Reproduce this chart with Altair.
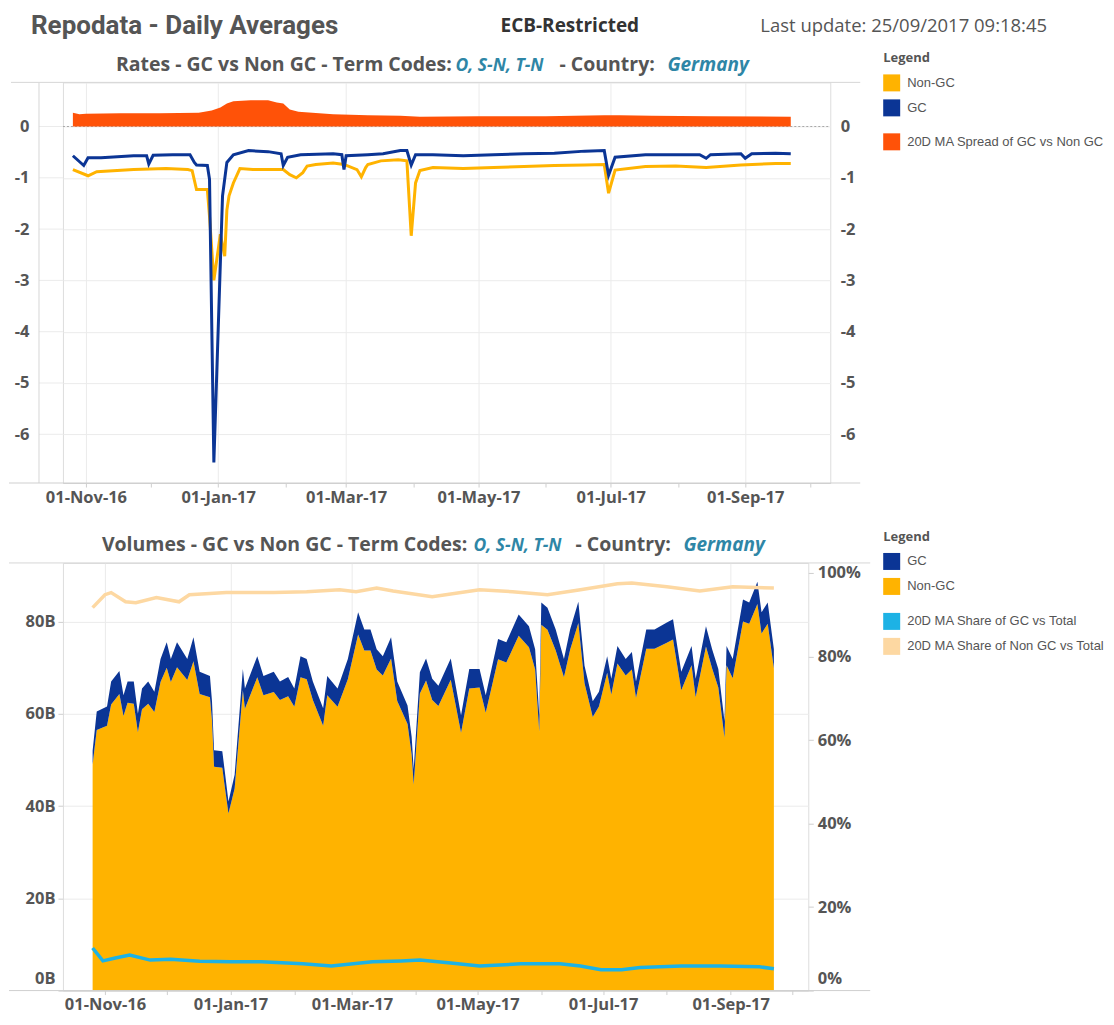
import altair as alt
import pandas as pd

# ---------------- colours / fonts ----------------
ORANGE = "#FFB300"
BLUE = "#0B3595"
RED = "#FF5208"
CYAN = "#1DB2E5"
PEACH = "#FDD8A2"
GRAY = "#555555"
TEAL = "#2E86A6"
GRID = "#EBEBEB"
FRAME = "#D6D6D6"
FONT = "Open Sans"
LFONT = "Liberation Sans"

# ---------------- data: Rates panel ----------------
RATE_NGC_DATES = ["2016-10-26", "2016-11-02", "2016-11-06", "2016-11-23", "2016-12-08", "2016-12-18",
                  "2016-12-20", "2016-12-22", "2016-12-27", "2016-12-28", "2016-12-30", "2017-01-02",
                  "2017-01-04", "2017-01-05", "2017-01-06", "2017-01-08", "2017-01-11", "2017-01-17",
                  "2017-01-24", "2017-01-31", "2017-02-03", "2017-02-06", "2017-02-09", "2017-02-11",
                  "2017-02-15", "2017-02-23", "2017-02-28", "2017-03-06", "2017-03-08", "2017-03-10",
                  "2017-03-11", "2017-03-17", "2017-03-25", "2017-03-29", "2017-03-31", "2017-04-02",
                  "2017-04-04", "2017-04-10", "2017-04-24", "2017-05-08", "2017-05-22", "2017-06-05",
                  "2017-06-19", "2017-06-28", "2017-06-30", "2017-07-03", "2017-07-17", "2017-07-31",
                  "2017-08-14", "2017-08-30", "2017-09-15", "2017-09-22"]
RATE_NGC = [-0.84, -0.96, -0.88, -0.84, -0.82, -0.84,
            -0.86, -1.23, -1.23, -1.75, -3.00, -2.10,
            -2.53, -1.63, -1.35, -1.10, -0.82, -0.84,
            -0.84, -0.84, -0.94, -1.00, -0.90, -0.77,
            -0.74, -0.71, -0.74, -0.84, -0.98, -0.80,
            -0.74, -0.67, -0.65, -0.67, -2.13, -1.10,
            -0.86, -0.80, -0.82, -0.80, -0.78, -0.76,
            -0.75, -0.74, -1.30, -0.85, -0.78, -0.77,
            -0.80, -0.75, -0.72, -0.72]

RATE_GC_DATES = ["2016-10-26", "2016-10-31", "2016-11-02", "2016-11-08", "2016-11-23", "2016-11-29",
                 "2016-11-30", "2016-12-02", "2016-12-11", "2016-12-19", "2016-12-21", "2016-12-22",
                 "2016-12-27", "2016-12-28", "2016-12-30", "2017-01-03", "2017-01-05", "2017-01-08",
                 "2017-01-15", "2017-01-24", "2017-01-30", "2017-01-31", "2017-02-02", "2017-02-08",
                 "2017-02-23", "2017-02-27", "2017-02-28", "2017-03-01", "2017-03-11", "2017-03-18",
                 "2017-03-26", "2017-03-29", "2017-03-31", "2017-04-02", "2017-04-10", "2017-04-24",
                 "2017-05-08", "2017-05-22", "2017-06-05", "2017-06-19", "2017-06-28", "2017-06-30",
                 "2017-07-03", "2017-07-17", "2017-07-31", "2017-08-11", "2017-08-14", "2017-08-16",
                 "2017-08-30", "2017-09-01", "2017-09-04", "2017-09-15", "2017-09-22"]
RATE_GC = [-0.57, -0.76, -0.61, -0.61, -0.57, -0.57,
           -0.73, -0.56, -0.55, -0.55, -0.70, -0.75,
           -0.76, -1.03, -6.55, -1.35, -0.70, -0.55,
           -0.47, -0.49, -0.53, -0.76, -0.60, -0.55,
           -0.53, -0.55, -0.84, -0.57, -0.55, -0.53,
           -0.47, -0.47, -0.75, -0.55, -0.55, -0.57,
           -0.55, -0.53, -0.52, -0.48, -0.47, -0.95,
           -0.60, -0.55, -0.55, -0.55, -0.62, -0.55,
           -0.53, -0.62, -0.53, -0.52, -0.53]

SPREAD_DATES = ["2016-10-26", "2016-10-29", "2016-11-01", "2016-11-17", "2016-12-05", "2016-12-23",
                "2016-12-29", "2017-01-02", "2017-01-05", "2017-01-08", "2017-01-16", "2017-01-24",
                "2017-01-28", "2017-01-31", "2017-02-03", "2017-02-07", "2017-02-23", "2017-03-11",
                "2017-03-26", "2017-04-04", "2017-05-01", "2017-06-01", "2017-06-28", "2017-07-05",
                "2017-07-20", "2017-08-15", "2017-09-22"]
SPREAD = [0.27, 0.24, 0.25, 0.26, 0.26, 0.27,
          0.31, 0.37, 0.45, 0.49, 0.51, 0.51,
          0.47, 0.45, 0.33, 0.29, 0.24, 0.22,
          0.21, 0.19, 0.20, 0.20, 0.22, 0.22,
          0.21, 0.20, 0.19]

# ---------------- data: Volumes panel (billions) ----------------
VOL_DATES = ["2016-10-26", "2016-10-28", "2016-11-02", "2016-11-04", "2016-11-08", "2016-11-10",
             "2016-11-12", "2016-11-15", "2016-11-17", "2016-11-19", "2016-11-22", "2016-11-25",
             "2016-11-28", "2016-12-01", "2016-12-03", "2016-12-06", "2016-12-11", "2016-12-14",
             "2016-12-17", "2016-12-22", "2016-12-23", "2016-12-24", "2016-12-28", "2016-12-29",
             "2016-12-31", "2017-01-03", "2017-01-07", "2017-01-08", "2017-01-14", "2017-01-17",
             "2017-01-22", "2017-01-25", "2017-01-29", "2017-02-01", "2017-02-04", "2017-02-07",
             "2017-02-10", "2017-02-15", "2017-02-17", "2017-02-22", "2017-02-27", "2017-03-04",
             "2017-03-07", "2017-03-10", "2017-03-13", "2017-03-16", "2017-03-20", "2017-03-23",
             "2017-03-28", "2017-03-30", "2017-03-31", "2017-04-03", "2017-04-06", "2017-04-09",
             "2017-04-12", "2017-04-18", "2017-04-23", "2017-04-27", "2017-05-02", "2017-05-05",
             "2017-05-11", "2017-05-15", "2017-05-21", "2017-05-26", "2017-05-29", "2017-05-31",
             "2017-06-01", "2017-06-04", "2017-06-08", "2017-06-12", "2017-06-15", "2017-06-19",
             "2017-06-22", "2017-06-26", "2017-06-29", "2017-07-03", "2017-07-05", "2017-07-08",
             "2017-07-12", "2017-07-15", "2017-07-17", "2017-07-22", "2017-07-26", "2017-08-01",
             "2017-08-04", "2017-08-08", "2017-08-13", "2017-08-15", "2017-08-20", "2017-08-23",
             "2017-08-26", "2017-08-29", "2017-08-30", "2017-09-02", "2017-09-07", "2017-09-10",
             "2017-09-14", "2017-09-16", "2017-09-19", "2017-09-22"]
VOL_NONGC = [49.0, 56.5, 57.4, 62.0, 64.3, 59.5,
             62.4, 62.2, 56.0, 61.0, 62.2, 60.4,
             66.9, 70.0, 66.9, 70.1, 67.3, 71.4,
             64.3, 63.6, 58.5, 48.5, 48.3, 44.9,
             38.4, 43.8, 65.1, 61.1, 67.9, 64.0,
             64.7, 63.0, 63.8, 61.5, 67.9, 67.5,
             63.0, 57.4, 64.0, 61.5, 67.5, 77.2,
             73.7, 73.7, 69.6, 68.3, 72.0, 62.8,
             57.8, 51.2, 44.6, 64.4, 67.2, 63.0,
             61.7, 67.4, 55.9, 65.5, 65.7, 60.2,
             71.8, 71.1, 76.9, 74.4, 69.6, 56.1,
             79.3, 78.2, 73.7, 67.9, 73.9, 79.7,
             66.6, 59.3, 61.6, 68.9, 64.2, 70.9,
             68.3, 69.6, 63.4, 74.1, 74.1, 75.4,
             76.1, 65.1, 70.5, 63.6, 74.6, 69.8,
             65.7, 54.8, 70.5, 67.7, 80.0, 79.5,
             83.8, 77.4, 79.5, 69.8]
VOL_GC = [3.0, 4.0, 4.2, 5.0, 5.0, 4.5,
          4.6, 4.8, 4.0, 4.5, 4.8, 4.4,
          5.0, 5.5, 5.0, 5.4, 4.6, 5.2,
          4.8, 4.6, 4.2, 3.6, 3.6, 3.4,
          2.6, 3.0, 4.6, 4.4, 4.6, 4.2,
          4.4, 4.0, 4.2, 4.0, 4.6, 4.4,
          4.0, 3.8, 4.2, 4.0, 4.4, 4.8,
          4.6, 4.6, 4.4, 4.2, 4.6, 4.2,
          4.0, 3.8, 3.4, 4.6, 4.8, 4.6,
          4.4, 4.6, 3.8, 4.2, 4.0, 3.8,
          4.4, 4.4, 4.6, 4.6, 4.4, 3.6,
          4.8, 4.8, 4.6, 4.0, 4.4, 4.6,
          3.8, 3.4, 3.2, 3.6, 3.4, 3.8,
          3.6, 3.8, 3.6, 4.2, 4.2, 4.4,
          4.4, 4.0, 4.2, 4.0, 4.4, 4.2,
          4.0, 3.6, 4.2, 4.2, 4.8, 4.6,
          4.8, 4.6, 4.6, 4.2]

# 20-day moving-average shares (percent)
SHARE_NGC_DATES = ["2016-10-26", "2016-11-01", "2016-11-04", "2016-11-11", "2016-11-16", "2016-11-26",
                   "2016-12-07", "2016-12-12", "2016-12-30", "2017-01-12", "2017-01-22", "2017-02-07",
                   "2017-02-23", "2017-03-03", "2017-03-13", "2017-03-21", "2017-04-09", "2017-05-02",
                   "2017-05-18", "2017-06-04", "2017-06-20", "2017-07-08", "2017-07-15", "2017-08-01",
                   "2017-08-17", "2017-09-02", "2017-09-22"]
SHARE_NGC = [91.7, 94.8, 95.3, 93.1, 92.9, 94.1,
             93.1, 94.8, 95.3, 95.3, 95.3, 95.5,
             96.0, 95.5, 96.4, 95.7, 94.3, 96.0,
             95.5, 94.8, 96.0, 97.4, 97.6, 96.7,
             95.7, 96.7, 96.4]
SHARE_GC_DATES = ["2016-10-26", "2016-10-31", "2016-11-06", "2016-11-13", "2016-11-23", "2016-12-03",
                  "2016-12-17", "2017-01-01", "2017-01-16", "2017-02-05", "2017-02-19", "2017-03-11",
                  "2017-03-25", "2017-04-03", "2017-04-18", "2017-05-02", "2017-05-22", "2017-06-10",
                  "2017-06-20", "2017-06-30", "2017-07-10", "2017-07-19", "2017-08-08", "2017-08-27",
                  "2017-09-15", "2017-09-22"]
SHARE_GC = [10.2, 7.1, 7.8, 8.5, 7.3, 7.5,
            7.0, 6.9, 6.9, 6.4, 5.9, 6.9,
            7.1, 7.3, 6.6, 5.9, 6.4, 6.4,
            5.9, 5.0, 5.0, 5.5, 5.9, 5.9,
            5.7, 5.2]

RATE_TICKS = [0, -1, -2, -3, -4, -5, -6]
VOL_TICKS = [0, 20, 40, 60, 80]
PCT_TICKS = [0, 20, 40, 60, 80, 100]
MONTH_TICKS = [(2016, 11), (2016, 12), (2017, 1), (2017, 2), (2017, 3), (2017, 4), (2017, 5),
               (2017, 6), (2017, 7), (2017, 8), (2017, 9), (2017, 10)]


def frame(dates, vals, series, order=0):
    return pd.DataFrame({"date": pd.to_datetime(dates), "val": vals, "series": series, "ord": order})


AX_SIZE = 16.5
EVEN_MONTH = "month(datum.value) % 2 == 0"
ZERO_UP = {"condition": {"test": "datum.value == 0", "value": -12}, "value": 0}


def x_axis():
    return alt.Axis(
        values=[alt.DateTime(year=y, month=m, date=1) for y, m in MONTH_TICKS],
        labelExpr=EVEN_MONTH + " ? timeFormat(datum.value, '%d-%b-%y') : ''",
        title=None, grid=True, gridColor=GRID,
        gridOpacity={"condition": {"test": EVEN_MONTH, "value": 1}, "value": 0},
        domainColor="#CFCFCF", tickColor="#CFCFCF",
        tickSize=4, labelFont=FONT, labelFontSize=AX_SIZE, labelFontWeight="bold", labelColor=GRAY,
        labelPadding=2, labelFlush=False, labelOverlap=False,
    )


def y_axis(values, expr, orient="left", grid=True, extent=None, ticks=False, pad=10, offset=0,
           lift_zero=False):
    kw = dict(values=values, labelExpr=expr, orient=orient, title=None, grid=grid, gridColor=GRID,
              domain=False, ticks=ticks, tickColor="#CFCFCF", tickSize=5, labelPadding=pad,
              labelFont=FONT, labelFontSize=AX_SIZE, labelFontWeight="bold", labelColor=GRAY,
              offset=offset)
    if lift_zero:
        kw["labelOffset"] = ZERO_UP
    if extent is not None:
        kw["minExtent"] = extent
        kw["maxExtent"] = extent
    return alt.Axis(**kw)


def legend(title, lx, ly):
    kw = dict(orient="none", legendX=lx, legendY=ly, padding=0, offset=0,
              labelFont=LFONT, labelFontSize=13, labelColor=GRAY, labelOffset=7, labelLimit=400,
              symbolType="square", symbolSize=289, symbolStrokeWidth=0, rowPadding=8)
    if title:
        kw.update(title=title, titleFont=FONT, titleFontSize=13, titleFontWeight="bold",
                  titleColor=GRAY, titlePadding=9)
    else:
        kw.update(title=None)
    return alt.Legend(**kw)


def label(txt, x, y, size, color=GRAY, weight="bold", style="normal", font=FONT):
    return alt.Chart(pd.DataFrame({"t": [txt]})).mark_text(
        align="left", baseline="alphabetic", font=font, fontSize=size, color=color,
        fontWeight=weight, fontStyle=style,
    ).encode(text="t:N", x=alt.value(x), y=alt.value(y))


def hrule(x1, x2, y, color):
    return alt.Chart(pd.DataFrame({"a": [0]})).mark_rule(color=color, strokeWidth=1).encode(
        x=alt.value(x1), x2=alt.value(x2), y=alt.value(y))


def vrule(x, y1, y2, color):
    return alt.Chart(pd.DataFrame({"a": [0]})).mark_rule(color=color, strokeWidth=1).encode(
        x=alt.value(x), y=alt.value(y1), y2=alt.value(y2))


# ---------------- top panel: rates ----------------
# both panels share the same left origin (x = 62); the rates frame starts 24 px further left
TOP_L, TOP_T = 62, 80
STRIP = 24
PAGE_L = 8
TOP_W, TOP_H = 830 - TOP_L, 401
TOP_X = alt.Scale(domain=[alt.DateTime(year=2016, month=10, date=21, hours=10),
                          alt.DateTime(year=2017, month=10, date=10, hours=5)])
top_y_scale = alt.Scale(domain=[-6.95, 0.86], nice=False, zero=False)

spread_y = alt.Y("val:Q", scale=top_y_scale,
                 axis=y_axis(RATE_TICKS, "datum.value + ''", orient="right", grid=False))
zero_rule = alt.Chart(pd.DataFrame({"val": [0]})).mark_rule(
    color="#A8A8A8", strokeDash=[2, 2], strokeWidth=1
).encode(y=spread_y, x=alt.value(-STRIP), x2=alt.value(TOP_W))
spread_df = frame(SPREAD_DATES, SPREAD, "20D MA Spread of GC vs Non GC")
spread = alt.Chart(spread_df).mark_area().encode(
    x=alt.X("date:T", scale=TOP_X, axis=x_axis()),
    y=spread_y,
    color=alt.Color("series:N", scale=alt.Scale(domain=["20D MA Spread of GC vs Non GC"], range=[RED]),
                    legend=legend(None, 883 - TOP_L, 131 - TOP_T)),
)

rates_df = pd.concat([frame(RATE_NGC_DATES, RATE_NGC, "Non-GC"), frame(RATE_GC_DATES, RATE_GC, "GC")])
rate_y = alt.Y("val:Q", scale=top_y_scale,
               axis=y_axis(RATE_TICKS, "datum.value + ''", offset=STRIP))
# grid lines continued over the 24 px strip left of the shared origin
strip_grid = alt.Chart(pd.DataFrame({"val": RATE_TICKS})).mark_rule(color=GRID, strokeWidth=1).encode(
    y=rate_y, x=alt.value(-STRIP), x2=alt.value(0))
# zero-height area: only carries the legend of the two rate lines
rate_key = alt.Chart(rates_df).mark_area().encode(
    x="date:T", y=rate_y, y2="val:Q",
    fill=alt.Fill("series:N", scale=alt.Scale(domain=["Non-GC", "GC"], range=[ORANGE, BLUE]),
                  legend=legend("Legend", 883 - TOP_L, 50 - TOP_T)),
)
line_ngc = alt.Chart(rates_df).transform_filter(alt.datum.series == "Non-GC").mark_line(
    strokeWidth=3, color=ORANGE).encode(x="date:T", y=rate_y)
line_gc = alt.Chart(rates_df).transform_filter(alt.datum.series == "GC").mark_line(
    strokeWidth=3, color=BLUE).encode(x="date:T", y=rate_y)

top_frame = [
    vrule(-STRIP, 0, TOP_H, FRAME),
    hrule(PAGE_L + 2 - TOP_L, 860 - TOP_L, 0, FRAME),
    hrule(PAGE_L - TOP_L, 860 - TOP_L, TOP_H, "#CFCFCF"),
]

top_texts = [
    label("Repodata - Daily Averages", 30 - TOP_L, 32 - TOP_T, 26, font="Roboto"),
    label("ECB-Restricted", 500 - TOP_L, 30 - TOP_T, 19, color="#333333"),
    label("Last update: 25/09/2017 09:18:45", 760 - TOP_L, 30 - TOP_T, 18.5, weight="normal"),
    label("Rates - GC vs Non GC - Term Codes:", 115 - TOP_L, 69 - TOP_T, 19.5),
    label("O, S-N, T-N", 455 - TOP_L, 69 - TOP_T, 17.5, color=TEAL, style="italic"),
    label("- Country:", 559 - TOP_L, 69 - TOP_T, 19.5),
    label("Germany", 667 - TOP_L, 69 - TOP_T, 19, color=TEAL, style="italic"),
]

top = alt.layer(
    alt.layer(zero_rule, spread),
    alt.layer(strip_grid, rate_key, line_ngc, line_gc),
    *top_frame,
    *top_texts,
).resolve_scale(y="independent").properties(width=TOP_W, height=TOP_H)

# ---------------- bottom panel: volumes ----------------
BOT_L, BOT_T = 62, 563
BOT_W, BOT_H = 808 - BOT_L, 428
BOT_X = alt.Scale(domain=[alt.DateTime(year=2016, month=10, date=11, hours=14),
                          alt.DateTime(year=2017, month=10, date=8, hours=17)])

vol_df = pd.concat([frame(VOL_DATES, VOL_NONGC, "Non-GC", 0), frame(VOL_DATES, VOL_GC, "GC", 1)])
areas = alt.Chart(vol_df).mark_area().encode(
    x=alt.X("date:T", scale=BOT_X, axis=x_axis()),
    y=alt.Y("val:Q", stack="zero", scale=alt.Scale(domain=[0, 92.7], nice=False),
            axis=y_axis(VOL_TICKS, "datum.value + 'B'", extent=49, ticks=True, pad=3, lift_zero=True)),
    fill=alt.Fill("series:N", scale=alt.Scale(domain=["GC", "Non-GC"], range=[BLUE, ORANGE]),
                  legend=legend("Legend", 883 - BOT_L, 531 - BOT_T)),
    order=alt.Order("ord:Q"),
)
SHARE_NAMES = ["20D MA Share of GC vs Total", "20D MA Share of Non GC vs Total"]
share_df = pd.concat([frame(SHARE_GC_DATES, SHARE_GC, SHARE_NAMES[0]),
                      frame(SHARE_NGC_DATES, SHARE_NGC, SHARE_NAMES[1])])
share_y = alt.Y("val:Q", scale=alt.Scale(domain=[0, 102.4], nice=False),
                axis=y_axis(PCT_TICKS, "datum.value + '%'", orient="right", grid=False,
                            ticks=True, pad=4, lift_zero=True))
share_key = alt.Chart(share_df).mark_area().encode(
    x="date:T", y=share_y, y2="val:Q",
    color=alt.Color("series:N", scale=alt.Scale(domain=SHARE_NAMES, range=[CYAN, PEACH]),
                    legend=legend(None, 883 - BOT_L, 613 - BOT_T)),
)
share_gc = alt.Chart(share_df).transform_filter(alt.datum.series == SHARE_NAMES[0]).mark_line(
    strokeWidth=3.5, color=CYAN).encode(x="date:T", y=share_y)
share_ngc = alt.Chart(share_df).transform_filter(alt.datum.series == SHARE_NAMES[1]).mark_line(
    strokeWidth=3.5, color=PEACH).encode(x="date:T", y=share_y)

bot_frame = [
    hrule(PAGE_L - BOT_L, 870 - BOT_L, 0, FRAME),
    hrule(PAGE_L - BOT_L, 870 - BOT_L, BOT_H, "#CFCFCF"),
]
bot_texts = [
    label("Volumes - GC vs Non GC - Term Codes:", 101 - BOT_L, 551 - BOT_T, 19.5),
    label("O, S-N, T-N", 473 - BOT_L, 551 - BOT_T, 17.5, color=TEAL, style="italic"),
    label("- Country:", 575 - BOT_L, 551 - BOT_T, 19.5),
    label("Germany", 683 - BOT_L, 551 - BOT_T, 19, color=TEAL, style="italic"),
]
bottom = alt.layer(
    areas,
    alt.layer(share_key, share_gc, share_ngc),
    *bot_frame,
    *bot_texts,
).resolve_scale(y="independent").properties(width=BOT_W, height=BOT_H)

chart = alt.vconcat(top, bottom, spacing=24).resolve_scale(
    color="independent", fill="independent"
).properties(
    padding={"left": 0, "top": 4, "right": 0, "bottom": 0}
).configure_view(stroke=FRAME).configure(background="white")

chart.save("out.html", embed_options={"renderer": "svg", "actions": False})
